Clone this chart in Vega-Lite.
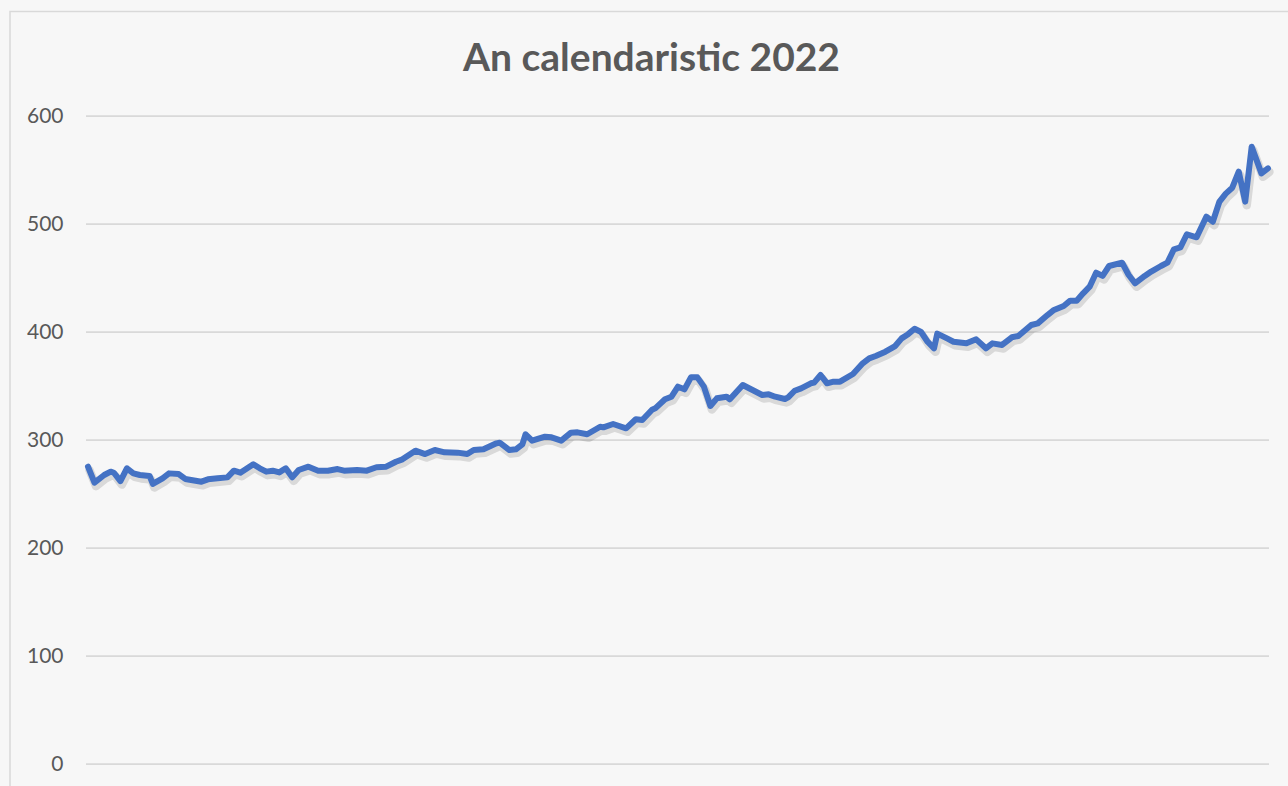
{
  "$schema": "https://vega.github.io/schema/vega-lite/v6.json",
  "autosize": "none",
  "padding": {"left": 10, "top": 11.5, "right": -5, "bottom": -5.5},
  "width": 1283,
  "height": 780,
  "background": "#f7f7f7",
  "config": {
    "view": {"stroke": "#d9d9d9", "strokeWidth": 1.5, "fill": "#f7f7f7"}
  },
  "title": {
    "text": "An calendaristic 2022",
    "font": "Lato",
    "fontSize": 39,
    "fontWeight": "bold",
    "color": "#595959",
    "anchor": "middle",
    "baseline": "alphabetic",
    "offset": -98
  },
  "datasets": {
    "grid": [
      {"value": 0, "x1": -0.617, "x2": 364.34},
      {"value": 100, "x1": -0.617, "x2": 364.34},
      {"value": 200, "x1": -0.617, "x2": 364.34},
      {"value": 300, "x1": -0.617, "x2": 364.34},
      {"value": 400, "x1": -0.617, "x2": 364.34},
      {"value": 500, "x1": -0.617, "x2": 364.34},
      {"value": 600, "x1": -0.617, "x2": 364.34}
    ],
    "series": [
      {"day": 0, "value": 275.3}, {"day": 2, "value": 260.5}, {"day": 5, "value": 267.6}, {"day": 7, "value": 270.7},
      {"day": 8, "value": 269.7}, {"day": 10, "value": 262}, {"day": 12, "value": 273.8}, {"day": 14, "value": 269.1},
      {"day": 16, "value": 267.6}, {"day": 19, "value": 266.7}, {"day": 20, "value": 259.3}, {"day": 23, "value": 264.5},
      {"day": 25, "value": 269.1}, {"day": 28, "value": 268.5}, {"day": 30, "value": 263.9}, {"day": 35, "value": 261.4},
      {"day": 37, "value": 263.6}, {"day": 40, "value": 264.5}, {"day": 43, "value": 265.4}, {"day": 45, "value": 271.6},
      {"day": 47, "value": 269.7}, {"day": 51, "value": 277.5}, {"day": 53, "value": 273.8}, {"day": 55, "value": 270.7},
      {"day": 57, "value": 271.6}, {"day": 59, "value": 270}, {"day": 61, "value": 273.8}, {"day": 63, "value": 265.4},
      {"day": 65, "value": 272.2}, {"day": 68, "value": 275.3}, {"day": 71, "value": 271.6}, {"day": 74, "value": 271.6},
      {"day": 77, "value": 273.1}, {"day": 79, "value": 271.6}, {"day": 83, "value": 272.2}, {"day": 86, "value": 271.6},
      {"day": 89, "value": 274.8}, {"day": 92, "value": 275.3}, {"day": 95, "value": 279.9}, {"day": 97, "value": 282.1},
      {"day": 101, "value": 290.1}, {"day": 104, "value": 287}, {"day": 107, "value": 290.7}, {"day": 110, "value": 288.6},
      {"day": 114, "value": 288.3}, {"day": 117, "value": 287}, {"day": 119, "value": 290.7}, {"day": 122, "value": 291.4},
      {"day": 126, "value": 296.9}, {"day": 127, "value": 297.5}, {"day": 130, "value": 290.7}, {"day": 132, "value": 291.4},
      {"day": 134, "value": 296}, {"day": 135, "value": 305.3}, {"day": 137, "value": 299.4}, {"day": 141, "value": 303.1},
      {"day": 143, "value": 302.5}, {"day": 146, "value": 299.4}, {"day": 149, "value": 306.8}, {"day": 151, "value": 307.1},
      {"day": 154, "value": 305.3}, {"day": 158, "value": 312.3}, {"day": 159, "value": 311.7}, {"day": 162, "value": 314.8},
      {"day": 166, "value": 310.8}, {"day": 169, "value": 319.2}, {"day": 171, "value": 318.5}, {"day": 174, "value": 328},
      {"day": 175, "value": 329.3}, {"day": 178, "value": 337.7}, {"day": 180, "value": 340.1}, {"day": 182, "value": 349.4},
      {"day": 184, "value": 346.9}, {"day": 186, "value": 358}, {"day": 188, "value": 358}, {"day": 190, "value": 349.4},
      {"day": 192, "value": 331.5}, {"day": 194, "value": 338.6}, {"day": 197, "value": 340.1}, {"day": 198, "value": 337.7},
      {"day": 202, "value": 350.9}, {"day": 205, "value": 346.3}, {"day": 208, "value": 341.7}, {"day": 210, "value": 342.3},
      {"day": 212, "value": 340.1}, {"day": 215, "value": 338}, {"day": 216, "value": 339.5}, {"day": 218, "value": 345.6},
      {"day": 220, "value": 347.8}, {"day": 223, "value": 352.5}, {"day": 224, "value": 353.1}, {"day": 226, "value": 360.2},
      {"day": 228, "value": 352.5}, {"day": 230, "value": 354}, {"day": 232, "value": 354}, {"day": 236, "value": 361.1},
      {"day": 239, "value": 371}, {"day": 241, "value": 375.6}, {"day": 243, "value": 377.8}, {"day": 246, "value": 381.8},
      {"day": 249, "value": 387}, {"day": 251, "value": 394.1}, {"day": 253, "value": 398}, {"day": 255, "value": 403},
      {"day": 257, "value": 400}, {"day": 259, "value": 391}, {"day": 261, "value": 384.9}, {"day": 262, "value": 398.5},
      {"day": 265, "value": 394.1}, {"day": 267, "value": 391}, {"day": 271, "value": 389.5}, {"day": 274, "value": 393.2},
      {"day": 277, "value": 384.9}, {"day": 279, "value": 389.5}, {"day": 282, "value": 388}, {"day": 285, "value": 395.1},
      {"day": 287, "value": 396.3}, {"day": 291, "value": 406.5}, {"day": 293, "value": 408}, {"day": 296, "value": 415.7},
      {"day": 298, "value": 420.4}, {"day": 301, "value": 424.1}, {"day": 303, "value": 429}, {"day": 305, "value": 429},
      {"day": 307, "value": 435.8}, {"day": 309, "value": 442}, {"day": 311, "value": 454.9}, {"day": 313, "value": 452},
      {"day": 315, "value": 461.1}, {"day": 319, "value": 464.2}, {"day": 321, "value": 453}, {"day": 323, "value": 445.1},
      {"day": 326, "value": 451.9}, {"day": 328, "value": 456}, {"day": 331, "value": 461.1}, {"day": 333, "value": 464.2},
      {"day": 335, "value": 476.6}, {"day": 337, "value": 478.4}, {"day": 339, "value": 490.5}, {"day": 342, "value": 487.7},
      {"day": 345, "value": 506.8}, {"day": 347, "value": 502.1}, {"day": 349, "value": 520.4}, {"day": 351, "value": 528.1},
      {"day": 353, "value": 533.6}, {"day": 355, "value": 548.4}, {"day": 357, "value": 520.7}, {"day": 359, "value": 571.6},
      {"day": 362, "value": 546.9}, {"day": 364, "value": 551.5}
    ]
  },
  "encoding": {
    "y": {
      "field": "value",
      "type": "quantitative",
      "scale": {"domain": [-25.46, 696.76], "nice": false, "zero": false},
      "axis": {
        "values": [0, 100, 200, 300, 400, 500, 600],
        "grid": false,
        "domain": false,
        "ticks": false,
        "tickSize": 0,
        "labelPadding": 0,
        "offset": -53,
        "title": null,
        "labelFont": "Lato",
        "labelFontSize": 21,
        "labelColor": "#595959",
        "labelAlign": "right",
        "labelBaseline": "middle"
      }
    }
  },
  "layer": [
    {
      "data": {"name": "grid"},
      "mark": {"type": "rule", "color": "#d9d9d9", "strokeWidth": 1.75},
      "encoding": {
        "x": {"field": "x1", "type": "quantitative", "scale": {"domain": [-24.06, 371.74], "nice": false, "zero": false}, "axis": null},
        "x2": {"field": "x2"}
      }
    },
    {
      "data": {"name": "series"},
      "mark": {"type": "line", "color": "#000000", "opacity": 0.12, "strokeWidth": 8.5, "xOffset": 1.5, "yOffset": 3.5, "strokeJoin": "round", "strokeCap": "round"},
      "encoding": {
        "x": {"field": "day", "type": "quantitative", "scale": {"domain": [-24.06, 371.74], "nice": false, "zero": false}, "axis": null}
      }
    },
    {
      "data": {"name": "series"},
      "mark": {"type": "line", "color": "#4472c4", "strokeWidth": 6, "strokeJoin": "round", "strokeCap": "round"},
      "encoding": {
        "x": {"field": "day", "type": "quantitative", "scale": {"domain": [-24.06, 371.74], "nice": false, "zero": false}, "axis": null}
      }
    }
  ]
}
